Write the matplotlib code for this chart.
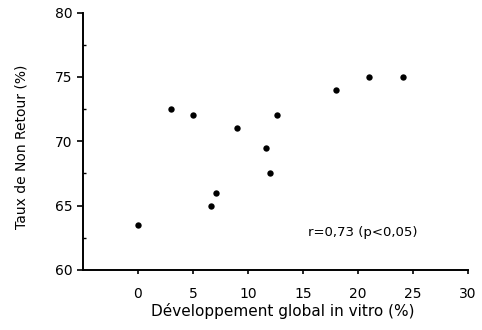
import matplotlib
matplotlib.use("Agg")
import matplotlib.pyplot as plt
from matplotlib.ticker import MultipleLocator

dev_global = [0, 3, 5, 6.6, 7.1, 9, 11.6, 12, 12.6, 18, 21, 24.1]
non_retour = [63.5, 72.5, 72, 65, 66, 71, 69.5, 67.5, 72, 74, 75, 75]
x_ticks = [0, 5, 10, 15, 20, 25, 30]
y_ticks = [60, 65, 70, 75, 80]

plt.rcParams['font.family'] = ['DejaVu Sans']

fig = plt.figure(figsize=(4.82, 3.30), dpi=100)
ax = fig.add_axes([0.172, 0.182, 0.799, 0.780])
ax.scatter(dev_global, non_retour, s=21, color='black', marker='o', zorder=3, linewidths=0)
ax.set_xlim(-5, 30)
ax.set_ylim(60, 80)
ax.set_xticks(x_ticks)
ax.set_yticks(y_ticks)
ax.yaxis.set_minor_locator(MultipleLocator(2.5))
ax.spines['top'].set_visible(False)
ax.spines['right'].set_visible(False)
ax.spines['left'].set_linewidth(1.4)
ax.spines['bottom'].set_linewidth(1.4)
ax.tick_params(axis='x', direction='out', length=3, width=1.2, pad=9.5, labelsize=10)
ax.tick_params(axis='y', direction='out', length=4, width=1.2, pad=3.5, labelsize=10)
ax.tick_params(axis='y', which='minor', direction='in', length=2, width=1.0)
ax.set_xlabel('Développement global in vitro (%)', fontsize=11)
ax.xaxis.set_label_coords(0.519, -0.128)
ax.set_ylabel('Taux de Non Retour (%)', fontsize=10)
ax.yaxis.set_label_coords(-0.14, 0.48)
ax.text(20.4, 62.9, 'r=0,73 (p<0,05)', fontsize=9.5, ha='center', va='center')
fig.savefig('out.png', dpi=100)
